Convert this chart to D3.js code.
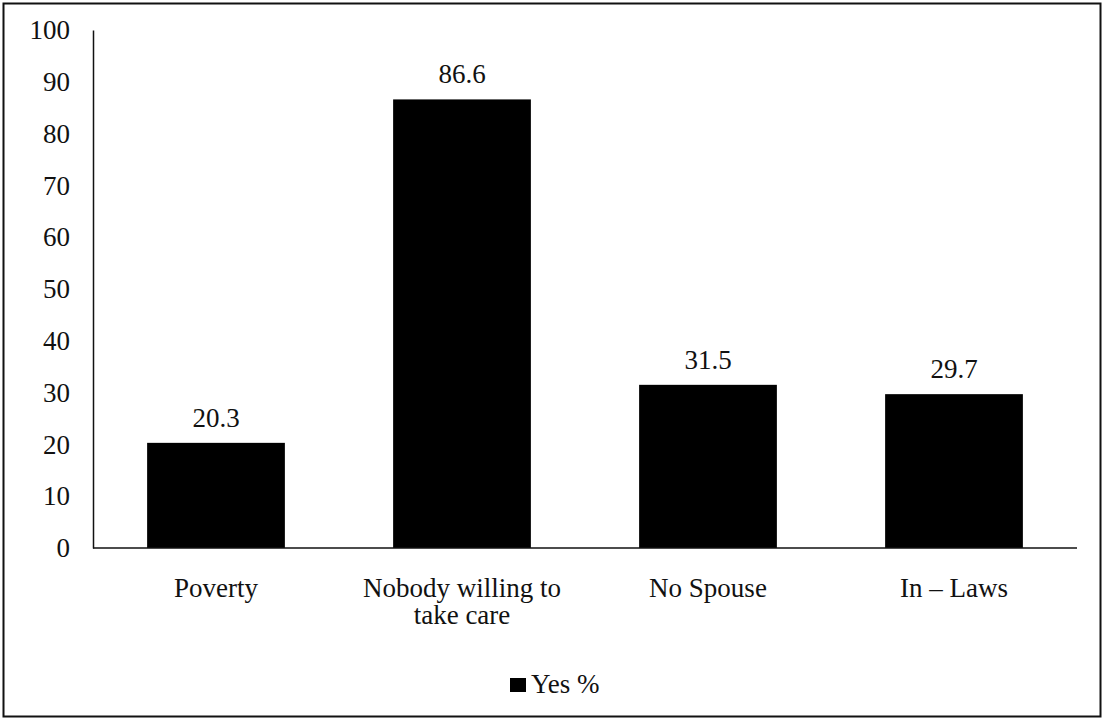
<!DOCTYPE html>
<html>
<head>
<meta charset="utf-8">
<script src="https://cdn.jsdelivr.net/npm/d3@7"></script>
<style>
  body { margin: 0; background: #fff; }
</style>
</head>
<body>
<div id="container"></div>
<script>
const categories = [['Poverty'], ['Nobody willing to', 'take care'], ['No Spouse'], ['In \u2013 Laws']];
const yesPct = [20.3, 86.6, 31.5, 29.7];
const yTicks = [0, 10, 20, 30, 40, 50, 60, 70, 80, 90, 100];
const seriesName = 'Yes %';

const FONT = '"Liberation Serif", "DejaVu Serif", serif';
const width = 1104; const height = 722;
const svg = d3.select('#container').append('svg')
    .attr('width', width).attr('height', height)
    .style('font-family', FONT);

// outer frame
svg.append('rect').attr('x', 3.5).attr('y', 3.5)
    .attr('width', width - 7).attr('height', height - 9)
    .attr('fill', '#fff').attr('stroke', '#111').attr('stroke-width', 2);

const m = {left: 93, right: 1077, top: 30, bottom: 548};

const x = d3.scaleBand()
    .domain(d3.range(categories.length))
    .range([m.left, m.right])
    .paddingInner(0.44).paddingOuter(0.22);

const y = d3.scaleLinear().domain([0, 100]).range([m.bottom, m.top]);

// y axis
const yAxis = svg.append('g').attr('transform', 'translate(' + m.left + ',0)')
    .call(d3.axisLeft(y).tickValues(yTicks).tickSize(0).tickPadding(23));
yAxis.attr('font-family', null).attr('font-size', null);
yAxis.select('.domain').attr('stroke', '#111').attr('stroke-width', 1.5);
yAxis.selectAll('text')
    .style('font-family', FONT).style('font-size', '27px').attr('fill', '#111');

// bars
svg.append('g').selectAll('rect')
    .data(yesPct)
    .join('rect')
    .attr('x', (d, i) => x(i))
    .attr('y', (d) => y(d))
    .attr('width', x.bandwidth())
    .attr('height', (d) => y(0) - y(d))
    .attr('fill', '#000');

// value labels
svg.append('g').selectAll('text')
    .data(yesPct)
    .join('text')
    .attr('x', (d, i) => x(i) + x.bandwidth() / 2)
    .attr('y', (d) => y(d) - 16)
    .attr('text-anchor', 'middle')
    .attr('fill', '#111')
    .style('font-family', FONT)
    .style('font-size', '27px')
    .text((d) => d.toFixed(1));

// x axis line
svg.append('line')
    .attr('x1', m.left).attr('x2', m.right)
    .attr('y1', y(0)).attr('y2', y(0))
    .attr('stroke', '#111').attr('stroke-width', 1.5);

// category labels
const cat = svg.append('g').selectAll('text')
    .data(categories)
    .join('text')
    .attr('x', (d, i) => x(i) + x.bandwidth() / 2)
    .attr('y', 597)
    .attr('text-anchor', 'middle')
    .attr('fill', '#111')
    .style('font-family', FONT)
    .style('font-size', '27px');
cat.selectAll('tspan')
    .data((d) => d)
    .join('tspan')
    .attr('x', function() {
      return d3.select(this.parentNode).attr('x');
    })
    .attr('dy', (d, i) => i === 0 ? 0 : 27)
    .text((d) => d);

// legend
const legend = svg.append('g').attr('transform', 'translate(510,693)');
legend.append('rect').attr('x', 0).attr('y', -15).attr('width', 16).attr('height', 14).attr('fill', '#000');
legend.append('text').attr('x', 21).attr('y', 0)
    .attr('fill', '#111')
    .style('font-family', FONT).style('font-size', '27px').text(seriesName);
</script>
</body>
</html>
